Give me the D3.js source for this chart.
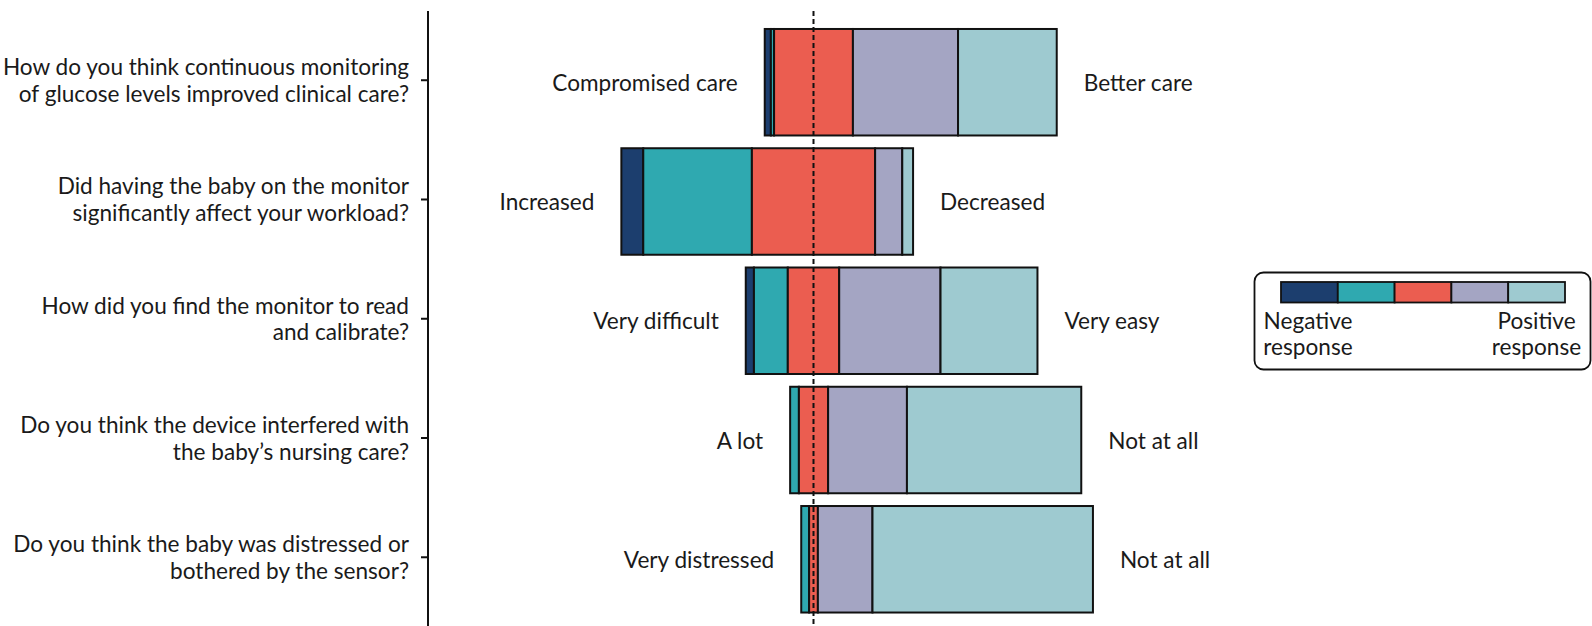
<!DOCTYPE html>
<html><head><meta charset="utf-8">
<script src="https://cdn.jsdelivr.net/npm/d3@7"></script>
<style>
html,body{margin:0;padding:0;background:#fff;}
svg{display:block;font-family:Lato, "Open Sans", sans-serif;}
</style></head>
<body>
<svg id="chart" width="1592" height="626"></svg>
<script>
const questions = [
  "How do you think continuous monitoring\nof glucose levels improved clinical care?",
  "Did having the baby on the monitor\nsignificantly affect your workload?",
  "How did you find the monitor to read\nand calibrate?",
  "Do you think the device interfered with\nthe baby\u2019s nursing care?",
  "Do you think the baby was distressed or\nbothered by the sensor?"
];
const negLabels = ["Compromised care","Increased","Very difficult","A lot","Very distressed"];
const posLabels = ["Better care","Decreased","Very easy","Not at all","Not at all"];
// percentages, from most negative to most positive response
const veryNegative = [2.1, 7.5, 2.8, 0.0, 0.0];
const negative     = [1.1, 37.2, 11.6, 3.0, 2.7];
const neutral      = [27.0, 42.2, 17.6, 10.0, 3.0];
const positive     = [36.0, 9.3, 34.7, 27.0, 18.7];
const veryPositive = [33.8, 3.7, 33.2, 59.7, 75.5];
const colors = ["#1c3e6e","#2fa9b0","#eb5d50","#a4a5c3","#9ecad0"];
const legendLabels = ["Negative\nresponse","Positive\nresponse"];

const FS = 22.6;
const svg = d3.select("#chart");
const x = d3.scaleLinear().domain([-50, 50]).range([667.5, 959.5]);
const y = d3.scaleBand().domain(d3.range(questions.length)).range([22.6, 618.9])
  .paddingInner(0.107).paddingOuter(0.0535);

const rows = questions.map((q, i) => {
  const vals = [veryNegative[i], negative[i], neutral[i], positive[i], veryPositive[i]];
  let start = -(vals[0] + vals[1] + vals[2] / 2);
  const segs = vals.map((v, k) => { const s = {x0: start, x1: start + v, k}; start += v; return s; });
  return {i, segs, lo: segs[0].x0, hi: segs[4].x1};
});

// bars
const g = svg.append("g");
rows.forEach(r => {
  g.selectAll(null).data(r.segs.filter(s => s.x1 - s.x0 > 0)).enter().append("rect")
    .attr("x", s => x(s.x0)).attr("width", s => x(s.x1) - x(s.x0))
    .attr("y", y(r.i)).attr("height", y.bandwidth())
    .attr("fill", s => colors[s.k]).attr("stroke", "#111").attr("stroke-width", 2);
});

// end labels
svg.selectAll(".neg").data(rows).enter().append("text")
  .attr("x", r => x(r.lo) - 27).attr("y", r => y(r.i) + y.bandwidth() / 2 + 8.5)
  .attr("text-anchor", "end").attr("font-size", FS).attr("fill", "#1a1a1a")
  .text(r => negLabels[r.i]);
svg.selectAll(".pos").data(rows).enter().append("text")
  .attr("x", r => x(r.hi) + 27).attr("y", r => y(r.i) + y.bandwidth() / 2 + 8.5)
  .attr("text-anchor", "start").attr("font-size", FS).attr("fill", "#1a1a1a")
  .text(r => posLabels[r.i]);

// zero dashed line
svg.append("line").attr("x1", x(0)).attr("x2", x(0)).attr("y1", 11).attr("y2", 626)
  .attr("stroke", "#111").attr("stroke-width", 2).attr("stroke-dasharray", "5,3");

// left axis
const axisX = 428;
svg.append("line").attr("x1", axisX).attr("x2", axisX).attr("y1", 11).attr("y2", 626)
  .attr("stroke", "#111").attr("stroke-width", 2);
const tickY = i => y(i) + y.bandwidth() / 2 - 2;
svg.selectAll(".tick").data(d3.range(questions.length)).enter().append("line")
  .attr("x1", axisX - 7).attr("x2", axisX).attr("y1", tickY).attr("y2", tickY)
  .attr("stroke", "#111").attr("stroke-width", 2);
const qt = svg.selectAll(".q").data(questions).enter().append("text")
  .attr("text-anchor", "end").attr("font-size", FS).attr("fill", "#1a1a1a");
qt.each(function(q, i) {
  const lines = q.split("\n");
  d3.select(this).selectAll("tspan").data(lines).enter().append("tspan")
    .attr("x", 409).attr("y", (l, j) => tickY(i) - 5 + j * 26.5).text(l => l);
});

// legend
const lg = svg.append("g");
lg.append("rect").attr("x", 1254.5).attr("y", 272.5).attr("width", 336).attr("height", 97)
  .attr("rx", 9).attr("fill", "#fff").attr("stroke", "#111").attr("stroke-width", 1.8);
const lx = d3.scaleBand().domain(d3.range(colors.length)).range([1281, 1565]);
lg.selectAll(".sw").data(colors).enter().append("rect")
  .attr("x", (c, k) => lx(k)).attr("y", 282).attr("width", lx.bandwidth()).attr("height", 20.5)
  .attr("fill", c => c).attr("stroke", "#111").attr("stroke-width", 1.8);
const legX = [1308, 1536.5];
legendLabels.forEach((t, k) => {
  const tx = lg.append("text").attr("text-anchor", "middle").attr("font-size", FS).attr("fill", "#1a1a1a");
  tx.selectAll("tspan").data(t.split("\n")).enter().append("tspan")
    .attr("x", legX[k]).attr("y", (l, j) => 329 + j * 26).text(l => l);
});
</script>
</body></html>
